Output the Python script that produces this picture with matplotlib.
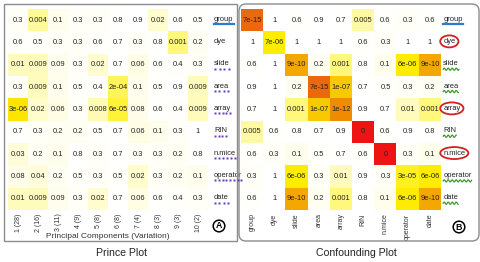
import numpy as np
import matplotlib
matplotlib.use("Agg")
import matplotlib.pyplot as plt
from matplotlib.colors import LinearSegmentedColormap, Normalize
from matplotlib.patches import Ellipse, Rectangle, FancyBboxPatch
from matplotlib.lines import Line2D
from matplotlib.transforms import IdentityTransform

plt.rcParams['font.family'] = ['Liberation Sans', 'DejaVu Sans']

W, H = 481, 262

factors = ["group", "dye", "slide", "area", "array", "RIN", "n.mice", "operator", "date"]
pc_labels = ["1 (28)", "2 (16)", "3 (11)", "4 (9)", "5 (8)", "6 (8)", "7 (4)", "8 (3)", "9 (3)", "10 (2)"]

# p-values, Prince plot (factors x principal components)
prince_p = [
    [0.3, 0.004, 0.1, 0.3, 0.3, 0.8, 0.9, 0.02, 0.6, 0.5],
    [0.6, 0.5, 0.3, 0.3, 0.6, 0.7, 0.3, 0.8, 0.001, 0.2],
    [0.01, 0.009, 0.09, 0.3, 0.02, 0.7, 0.06, 0.6, 0.4, 0.3],
    [0.3, 0.009, 0.1, 0.5, 0.4, 2e-04, 0.1, 0.5, 0.9, 0.009],
    [3e-06, 0.02, 0.06, 0.3, 0.008, 6e-05, 0.08, 0.6, 0.4, 0.009],
    [0.7, 0.3, 0.2, 0.2, 0.5, 0.7, 0.06, 0.1, 0.3, 1],
    [0.03, 0.2, 0.1, 0.8, 0.3, 0.7, 0.3, 0.3, 0.2, 0.8],
    [0.08, 0.04, 0.2, 0.5, 0.3, 0.5, 0.02, 0.3, 0.2, 0.1],
    [0.01, 0.009, 0.09, 0.3, 0.02, 0.7, 0.06, 0.6, 0.4, 0.3],
]

# p-values, confounding plot (factor x factor)
confound_p = [
    [7e-15, 1, 0.6, 0.9, 0.7, 0.005, 0.6, 0.3, 0.6],
    [1, 7e-06, 1, 1, 1, 0.6, 0.3, 1, 1],
    [0.6, 1, 9e-10, 0.2, 0.001, 0.8, 0.1, 6e-06, 9e-10],
    [0.9, 1, 0.2, 7e-15, 1e-07, 0.7, 0.5, 0.3, 0.2],
    [0.7, 1, 0.001, 1e-07, 1e-12, 0.9, 0.7, 0.01, 0.001],
    [0.005, 0.6, 0.8, 0.7, 0.9, 0, 0.6, 0.9, 0.8],
    [0.6, 0.3, 0.1, 0.5, 0.7, 0.6, 0, 0.3, 0.1],
    [0.3, 1, 6e-06, 0.3, 0.01, 0.9, 0.3, 3e-05, 6e-06],
    [0.6, 1, 9e-10, 0.2, 0.001, 0.8, 0.1, 6e-06, 9e-10],
]

prince_marks = ["blue", None, "dots", "dots", "dots", "dots", "dots", "dots", "dots"]
confound_marks = ["blue", "circle", "wave", "wave", "circle", "wave", "circle", "wave", "wave"]

VMAX = 17.0
stops = [
    (0.0, "#ffffff"), (0.3, "#fffffb"), (1.0, "#fffeec"), (1.5, "#fffdd6"),
    (2.0, "#fffbbc"), (2.5, "#fff994"), (3.0, "#fff87c"), (4.0, "#fff348"),
    (5.0, "#fff000"), (7.0, "#f8c800"), (9.0, "#f5a800"), (12.0, "#f08a00"),
    (15.0, "#ea5c12"), (VMAX, "#ee1414"),
]
cmap = LinearSegmentedColormap.from_list("pheat", [(v / VMAX, c) for v, c in stops])


def to_score(p):
    p = np.asarray(p, dtype=float)
    return np.where(p > 0, -np.log10(np.clip(p, 1e-300, None)), VMAX)


def fmt(p):
    if p == 0:
        return "0"
    if p >= 0.001:
        return f"{p:.1g}"
    return f"{p:.0e}"


def pix(x, y):
    # image pixels (origin top-left) -> display coords
    return x, H - y


def heat_panel(fig, rect, pvals, collabels, rowlabels, label_off):
    left, top, right, bottom = rect
    ax = fig.add_axes([left / W, 1 - bottom / H, (right - left) / W, (bottom - top) / H])
    pv = np.array(pvals)
    nr, nc = pv.shape
    ax.imshow(to_score(pv), cmap=cmap, norm=Normalize(0, VMAX), aspect="auto",
              interpolation="nearest")
    for i in range(nr):
        for j in range(nc):
            ax.text(j, i, fmt(pv[i, j]), ha="center", va="center", fontsize=5.4, color="#222222")
    ax.set_xlim(-0.5, nc - 0.5)
    ax.set_ylim(nr - 0.5, -0.5)
    ax.set_xticks(range(nc))
    ax.set_xticklabels(collabels, rotation=90, va="top", fontsize=5.0, color="#333333")
    ax.set_yticks([])
    ax.tick_params(length=0, pad=2.5)
    for s in ax.spines.values():
        s.set_visible(False)
    texts = []
    for i, name in enumerate(rowlabels):
        t = ax.text(nc - 0.5 + label_off, i - 0.05, name, ha="left", va="center",
                    fontsize=5.4, color="#222222", clip_on=False)
        texts.append(t)
    return ax, texts


fig = plt.figure(figsize=(W / 100, H / 100), dpi=100)
fig.patch.set_facecolor("white")

# panel frames
idt = IdentityTransform()
x0, y0 = pix(4, 241)
fig.add_artist(Rectangle((x0, y0), 233, 237, transform=idt, fill=False, ec="#8c8c8c", lw=1.0))
x0, y0 = pix(239, 241)
fig.add_artist(FancyBboxPatch((x0, y0), 240, 237, boxstyle="round,pad=0,rounding_size=7",
                              transform=idt, fill=False, ec="#8c8c8c", lw=1.0))

axA, textsA = heat_panel(fig, (8, 9, 208, 210), prince_p, pc_labels, factors, 0.3)
axB, textsB = heat_panel(fig, (241, 9, 441, 210), confound_p, factors, factors, 0.1)

fig.text(*pix(108, 236), "Principal Components (Variation)", transform=idt,
         ha="center", va="center", fontsize=6, color="#333333")
fig.text(*pix(122, 253), "Prince Plot", transform=idt, ha="center", va="center",
         fontsize=7.6, color="#222222")
fig.text(*pix(356, 253), "Confounding Plot", transform=idt, ha="center", va="center",
         fontsize=7.6, color="#222222")

for letter, (cx, cy) in [("A", (219, 226)), ("B", (459, 227))]:
    fig.text(*pix(cx, cy), letter, transform=idt, ha="center", va="center",
             fontsize=6.3, fontweight="bold", color="black",
             bbox=dict(boxstyle="circle,pad=0.15", fc="white", ec="black", lw=1.1))

# label decorations
fig.canvas.draw()
renderer = fig.canvas.get_renderer()
for texts, marks in [(textsA, prince_marks), (textsB, confound_marks)]:
    for t, mark in zip(texts, marks):
        bb = t.get_window_extent(renderer)
        if mark == "blue":
            fig.add_artist(Line2D([bb.x0, bb.x1], [bb.y0 - 1.0, bb.y0 - 1.0], transform=idt,
                                  color="#2a7ccc", lw=1.6))
        elif mark == "dots":
            n = max(3, int(round(bb.width / 3.6)))
            xs = np.linspace(bb.x0 + 1, bb.x1 - 1, n)
            fig.add_artist(Line2D(xs, np.full(n, bb.y0 - 1.5), transform=idt, ls="none",
                                  marker="s", ms=1.5, mec="none", mfc="#6b3db8"))
        elif mark == "wave":
            xs = np.linspace(bb.x0, bb.x1, 60)
            ys = bb.y0 - 2.0 + 1.1 * np.sin(2 * np.pi * (xs - bb.x0) / 4.0)
            fig.add_artist(Line2D(xs, ys, transform=idt, color="#3f9a2a", lw=0.9))
        elif mark == "circle":
            cx, cy = (bb.x0 + bb.x1) / 2, (bb.y0 + bb.y1) / 2
            fig.add_artist(Ellipse((cx, cy), bb.width + 6, 12, transform=idt, fill=False,
                                   ec="#d42020", lw=1.3))

fig.savefig("out.png", dpi=100)
